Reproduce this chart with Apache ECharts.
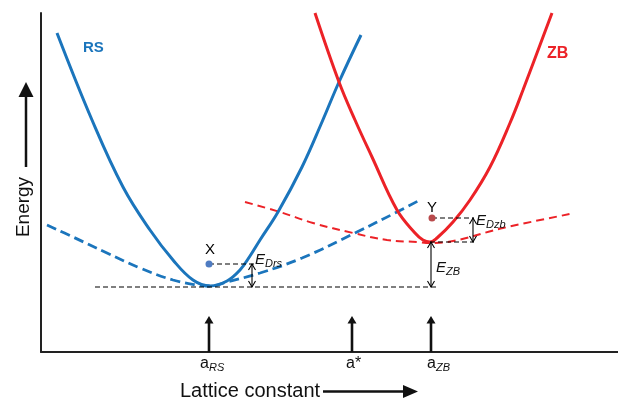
<!DOCTYPE html>
<html><head><meta charset="utf-8">
<script src="https://cdn.jsdelivr.net/npm/echarts@6/dist/echarts.min.js"></script>
<style>html,body{margin:0;padding:0;background:#fff}#c{width:618px;height:401px}</style>
</head><body><div id="c"></div>
<script>
// ---- data (lattice constant, energy) in arbitrary schematic units ----
const rsStable = [[57,319],[92,232],[123,165],[150,122],[173,92],[193,72],[210,66],[227,71],[240,82],[250,96],[260,112],[278,140],[302,185],[322,230],[339,270],[361,317]];
const zbStable = [[315,339],[339,270],[355,232],[372,195],[397,142],[415,119],[423,112],[430,110],[437,114],[453,130],[470,152],[490,185],[510,229],[523,262],[552,339]];
const rsMetastable = [[47,127],[73,115],[107,99],[140,84],[173,72],[197,67],[210,66],[227,70],[260,79],[302,94],[355,119],[397,140],[418,151]];
const zbMetastable = [[245,150],[280,140],[313,129],[353,119],[387,112],[417,110],[430,109],[447,110],[503,124],[570,138]];
const guideLines = [[95,437,65],[209,255,88],[432,474,134],[430,474,110]]; // x1, x2, energy
const gapArrows = [[252,65,88],[473,110,134],[431,65,110]];                // x, low, high
const gapLabels = [['E','Drs'],['E','Dzb'],['E','ZB']];
const refPoints = [[209,88],[432,134]];
const refPointNames = ['X','Y'];
const latticeMarks = [209,352,431];
const latticeMarkLabels = [['a','RS'],['a*',''],['a','ZB']];
const markArrowTop = 36;

// ---- styles ----
const BLUE = '#1b75bc', RED = '#ec2227', INK = '#111';
const FONT = '"Liberation Sans", Arial, sans-serif';
const gapLabelOffset = [[3,-4],[3,3],[5,26]];
const markLabelDx = [-9,-6,-4];

const chart = echarts.init(document.getElementById('c'), null, {renderer:'canvas'});

function lineSeries(data, color, width, type) {
  return {type:'line', data, smooth:0.4, showSymbol:false, silent:true, z:3,
    lineStyle:{color, width, type, cap:'butt'}};
}

const guideSeries = guideLines.map(g => ({
  type:'line', data:[[g[0],g[2]],[g[1],g[2]]], showSymbol:false, silent:true, z:4,
  lineStyle:{color:'#000', width:1.2, type:[5,3]}
}));

function renderGap(params, api) {
  const i = params.dataIndex;
  const x = api.value(0), lo = api.value(1), hi = api.value(2);
  const b = api.coord([x, lo]), t = api.coord([x, hi]);
  const hw = 3.5, hh = 6;
  const st = {stroke:'#000', lineWidth:1.1, fill:null};
  const off = gapLabelOffset[i];
  const lab = gapLabels[i];
  return {type:'group', children:[
    {type:'line', shape:{x1:b[0],y1:b[1],x2:t[0],y2:t[1]}, style:st},
    {type:'polyline', shape:{points:[[t[0]-hw,t[1]+hh],[t[0],t[1]],[t[0]+hw,t[1]+hh]]}, style:st},
    {type:'polyline', shape:{points:[[b[0]-hw,b[1]-hh],[b[0],b[1]],[b[0]+hw,b[1]-hh]]}, style:st},
    {type:'text', style:{x:t[0]+off[0], y:t[1]+off[1], text:lab[0], fontSize:15, fontStyle:'italic', fontFamily:FONT, fill:INK, align:'left', verticalAlign:'middle'}},
    {type:'text', style:{x:t[0]+off[0]+10, y:t[1]+off[1]+4, text:lab[1], fontSize:11, fontStyle:'italic', fontFamily:FONT, fill:INK, align:'left', verticalAlign:'middle'}}
  ]};
}

function renderMark(params, api) {
  const i = params.dataIndex;
  const x = api.value(0);
  const b = api.coord([x, 0]), t = api.coord([x, markArrowTop]);
  const lab = latticeMarkLabels[i];
  const lx = b[0] + markLabelDx[i];
  return {type:'group', children:[
    {type:'line', shape:{x1:b[0],y1:b[1],x2:t[0],y2:t[1]+6}, style:{stroke:INK, lineWidth:2.6}},
    {type:'polygon', shape:{points:[[t[0],t[1]],[t[0]-4.5,t[1]+7.5],[t[0]+4.5,t[1]+7.5]]}, style:{fill:INK}},
    {type:'text', style:{x:lx, y:b[1]+11.5, text:lab[0], fontSize:16, fontFamily:FONT, fill:INK, align:'left', verticalAlign:'middle'}},
    {type:'text', style:{x:lx+9, y:b[1]+16, text:lab[1], fontSize:11, fontStyle:'italic', fontFamily:FONT, fill:INK, align:'left', verticalAlign:'middle'}}
  ]};
}

const option = {
  animation:false,
  backgroundColor:'#fff',
  grid:{left:41, right:0, top:13, bottom:49},
  xAxis:{type:'value', min:41, max:618, axisLine:{show:true, onZero:false, lineStyle:{color:'#222', width:2}},
    axisTick:{show:false}, axisLabel:{show:false}, splitLine:{show:false}},
  yAxis:{type:'value', min:0, max:339, axisLine:{show:true, onZero:false, lineStyle:{color:'#222', width:2}},
    axisTick:{show:false}, axisLabel:{show:false}, splitLine:{show:false}},
  series:[
    lineSeries(rsMetastable, BLUE, 2.8, [10,5]),
    lineSeries(zbMetastable, RED, 2, [8,5]),
    lineSeries(rsStable, BLUE, 3, 'solid'),
    lineSeries(zbStable, RED, 3, 'solid'),
    ...guideSeries,
    {type:'custom', data:gapArrows, renderItem:renderGap, silent:true, z:5, clip:false},
    {type:'custom', data:latticeMarks.map(x => [x, 0]), renderItem:renderMark, silent:true, z:5, clip:false},
    {type:'scatter', silent:true, z:6, symbolSize:7,
      data:refPoints.map((p,i) => ({value:p, name:refPointNames[i],
        itemStyle:{color: i === 0 ? '#4f7cc2' : '#b94a4c', opacity:1},
        label:{offset: i === 0 ? [1,-3] : [0,1]}})),
      label:{show:true, position:'top', formatter:'{b}', color:'#000', opacity:1, fontSize:15, fontFamily:FONT, distance:0}}
  ],
  graphic:[
    {type:'text', left:83, top:40, style:{text:'RS', fill:BLUE, fontSize:15, fontWeight:'bold', fontFamily:FONT}},
    {type:'text', left:547, top:46, style:{text:'ZB', fill:RED, fontSize:16, fontWeight:'bold', fontFamily:FONT}},
    {type:'text', x:24, y:207, rotation:Math.PI/2, style:{text:'Energy', fill:INK, fontSize:19, fontFamily:FONT, align:'center', verticalAlign:'middle'}},
    {type:'line', shape:{x1:26, y1:167, x2:26, y2:95}, style:{stroke:INK, lineWidth:2.5}},
    {type:'polygon', shape:{points:[[26,82],[18.5,97],[33.5,97]]}, style:{fill:INK}},
    {type:'text', x:180, y:391, style:{text:'Lattice constant', fill:INK, fontSize:20, fontFamily:FONT, align:'left', verticalAlign:'middle'}},
    {type:'line', shape:{x1:323, y1:391.5, x2:405, y2:391.5}, style:{stroke:INK, lineWidth:2.5}},
    {type:'polygon', shape:{points:[[403,385],[403,398],[418,391.5]]}, style:{fill:INK}}
  ]
};
chart.setOption(option);
</script></body></html>
